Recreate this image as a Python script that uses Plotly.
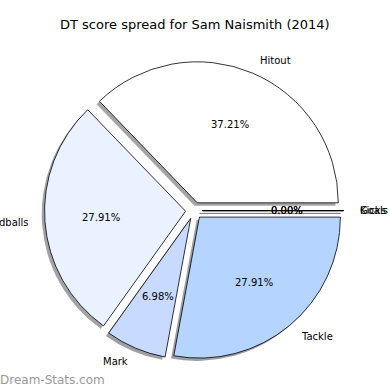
import math
import plotly.graph_objects as go

# ---- data ----
labels = ["Hitout", "Handballs", "Mark", "Tackle", "Kicks", "Goals"]
values = [16, 12, 3, 12, 0, 0]
colors = ["#ffffff", "#eaf1ff", "#c8daff", "#b5d4ff", "#a3c6ff", "#90b8ff"]
title = "DT score spread for Sam Naismith (2014)"
watermark = "Dream-Stats.com"

# ---- geometry (pixels) ----
W = H = 390
CX, CY, R = 194.0, 210.6, 141.0
PULL = 0.06
SH = 0.02 * R  # shadow offset
FONT = "DejaVu Sans"

def px(x):
    return x / W

def py(y):
    return 1 - y / H

def domain(cx, cy):
    half = R * (1 + PULL)
    return dict(x=[px(cx - half), px(cx + half)], y=[py(cy + half), py(cy - half)])

def shade(hexc):
    r, g, b = (int(hexc[i:i + 2], 16) for i in (1, 3, 5))
    return f"rgba({int(r*0.3)},{int(g*0.3)},{int(b*0.3)},0.5)"

total = sum(values)
# plotly's counterclockwise pies place the first slice ending at the rotation angle;
# shift so that the first slice starts at 3 o'clock (matplotlib startangle=0)
ROT = 90 - 360 * values[0] / total

fig = go.Figure()
# shadow
fig.add_trace(go.Pie(
    labels=labels, values=values, sort=False, direction="counterclockwise",
    rotation=ROT, pull=[PULL] * len(values), domain=domain(CX - SH, CY + SH),
    marker=dict(colors=[shade(c) for c in colors], line=dict(width=0)),
    textinfo="none", hoverinfo="skip", showlegend=False,
))
# main pie
fig.add_trace(go.Pie(
    labels=labels, values=values, sort=False, direction="counterclockwise",
    rotation=ROT, pull=[PULL] * len(values), domain=domain(CX, CY),
    marker=dict(colors=colors, line=dict(color="black", width=0.8)),
    textinfo="none", showlegend=False,
))

annotations = []
shapes = []
start = 0.0
d = PULL * R
for lab, v in zip(labels, values):
    frac = v / total
    mid = math.radians(start + frac * 360 / 2)
    c, s = math.cos(mid), math.sin(mid)
    ox, oy = CX + d * c, CY - d * s
    lx, ly = ox + 1.1 * R * c, oy - 1.1 * R * s
    annotations.append(dict(
        x=px(lx), y=py(ly), xref="paper", yref="paper", text=lab, showarrow=False,
        xanchor="left" if c >= 0 else "right", yanchor="middle",
        font=dict(family=FONT, size=10, color="black"),
    ))
    tx, ty = ox + 0.6 * R * c, oy - 0.6 * R * s
    annotations.append(dict(
        x=px(tx), y=py(ty), xref="paper", yref="paper", text=f"{frac*100:.2f}%",
        showarrow=False, xanchor="center", yanchor="middle",
        font=dict(family=FONT, size=10, color="black"),
    ))
    if v == 0:
        ex, ey = ox + R * c, oy - R * s
        shapes.append(dict(type="line", xref="paper", yref="paper",
                           x0=px(ox - SH), y0=py(oy + SH), x1=px(ex - SH), y1=py(ey + SH),
                           line=dict(color="rgba(77,77,77,0.5)", width=1), layer="below"))
        shapes.append(dict(type="line", xref="paper", yref="paper",
                           x0=px(ox), y0=py(oy), x1=px(ex), y1=py(ey),
                           line=dict(color="black", width=0.8)))
    start += frac * 360

annotations.append(dict(
    x=px(195), y=py(25), xref="paper", yref="paper", text=title, showarrow=False,
    xanchor="center", yanchor="middle", font=dict(family=FONT, size=13, color="black"),
))
annotations.append(dict(
    x=0, y=py(380), xref="paper", yref="paper", text=watermark, showarrow=False,
    xanchor="left", yanchor="middle", xshift=-2,
    font=dict(family=FONT, size=12, color="#999999"),
))

fig.update_layout(
    width=W, height=H, margin=dict(l=0, r=0, t=0, b=0),
    paper_bgcolor="white", plot_bgcolor="white",
    annotations=annotations, shapes=shapes, showlegend=False,
)
fig.write_html("out.html", config={"displayModeBar": False},
               post_script="document.body.style.margin='0';")
